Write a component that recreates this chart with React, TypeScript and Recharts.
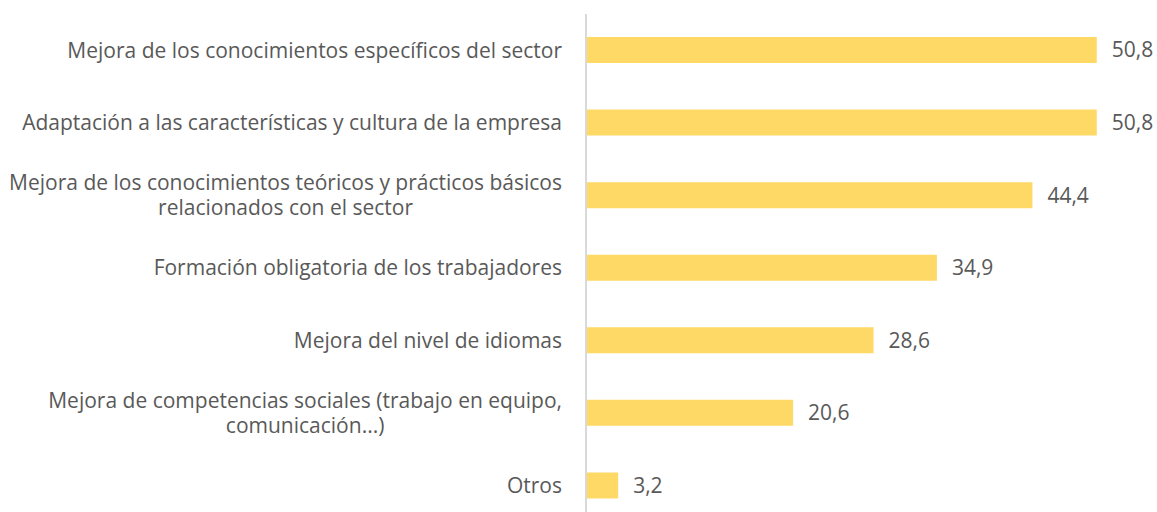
import React from "react";
import { BarChart, Bar, XAxis, YAxis, LabelList } from "recharts";

const categories = [
  "Mejora de los conocimientos específicos del sector",
  "Adaptación a las características y cultura de la empresa",
  "Mejora de los conocimientos teóricos y prácticos básicos\nrelacionados con el sector",
  "Formación obligatoria de los trabajadores",
  "Mejora del nivel de idiomas",
  "Mejora de competencias sociales (trabajo en equipo,\ncomunicación...)",
  "Otros",
];
const values = [50.8, 50.8, 44.4, 34.9, 28.6, 20.6, 3.2];

const data = categories.map((c, i) => ({ name: c, value: values[i] }));

const FONT = "'Open Sans', sans-serif";
const FONT_SIZE = 21;
const TEXT = "#595959";

let ctx: CanvasRenderingContext2D | null = null;
const measure = (s: string) => {
  if (!ctx) {
    const c = document.createElement("canvas");
    ctx = c.getContext("2d");
  }
  if (!ctx) return s.length * FONT_SIZE * 0.5;
  ctx.font = `${FONT_SIZE}px 'Open Sans', sans-serif`;
  return ctx.measureText(s).width;
};

const CatTick = (props: any) => {
  const { x, y, payload } = props;
  const lines = String(payload.value).split("\n");
  const lh = 25;
  const start = -((lines.length - 1) * lh) / 2;
  if (lines.length === 1) {
    return (
      <text x={x} y={y} dy="0.35em" textAnchor="end" fill={TEXT} fontSize={FONT_SIZE} fontFamily={FONT}>
        {lines[0]}
      </text>
    );
  }
  const w = Math.max(...lines.map(measure));
  const cx = x - w / 2;
  return (
    <text
      x={cx}
      y={y + start}
      textAnchor="middle"
      fill={TEXT}
      fontSize={FONT_SIZE}
      fontFamily={FONT}
    >
      {lines.map((l: string, i: number) => (
        <tspan key={i} x={cx} dy={i === 0 ? "0.35em" : lh}>
          {l}
        </tspan>
      ))}
    </text>
  );
};

export default function App() {
  return (
    <div style={{ position: "absolute", left: 0, top: 0, width: 1157, height: 530, background: "#fff" }}>
      <BarChart
        width={1157}
        height={530}
        data={data}
        layout="vertical"
        margin={{ top: 14, right: 18, bottom: 8, left: 0 }}
      >
        <XAxis type="number" domain={[0, 55]} hide />
        <YAxis
          type="category"
          dataKey="name"
          width={586}
          axisLine={{ stroke: "#D9D9D9", strokeWidth: 2 }}
          tickLine={false}
          tick={<CatTick />}
          tickMargin={18}
        />
        <Bar dataKey="value" fill="#FFD966" barSize={26} isAnimationActive={false}>
          <LabelList
            dataKey="value"
            position="right"
            offset={15}
            formatter={(v: any) => String(v.toFixed(1)).replace(".", ",")}
            style={{ fill: TEXT, fontSize: FONT_SIZE, fontFamily: FONT }}
          />
        </Bar>
      </BarChart>
    </div>
  );
}
